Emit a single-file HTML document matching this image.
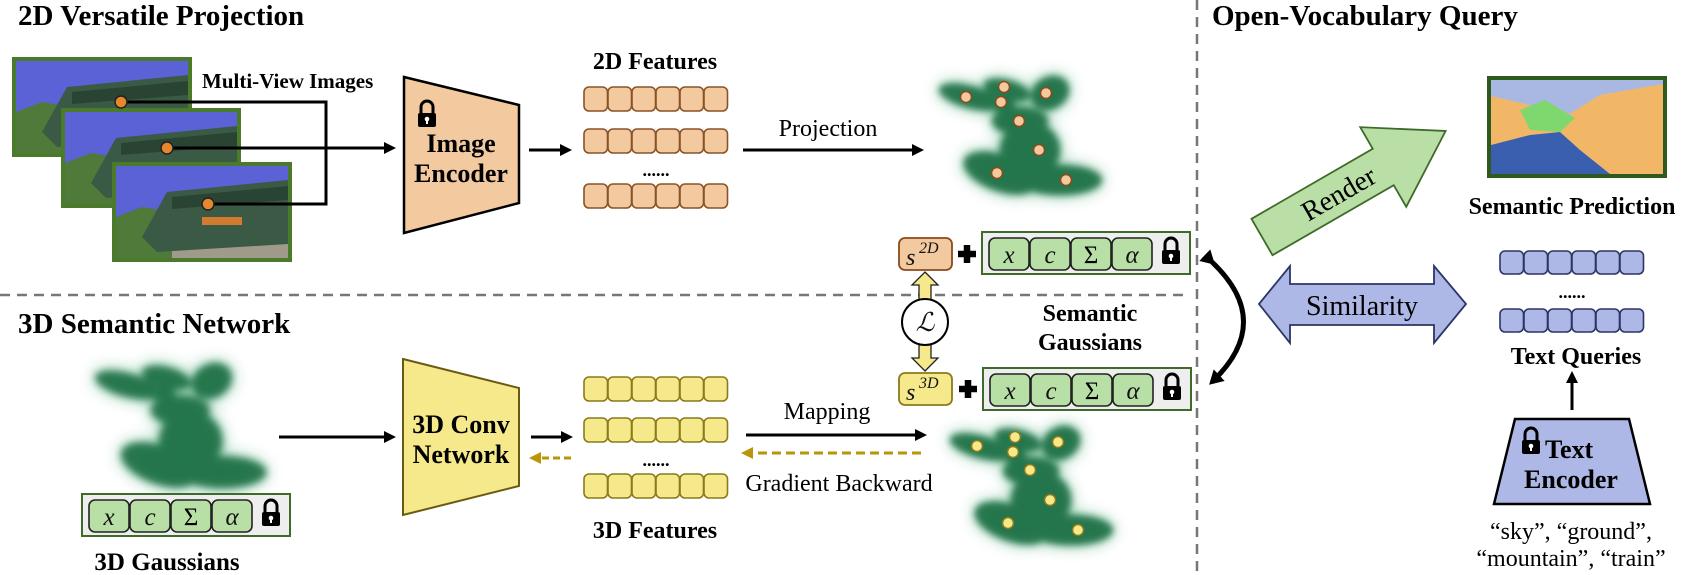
<!DOCTYPE html>
<html><head><meta charset="utf-8"><style>
html,body{margin:0;padding:0;background:#fff}
svg{display:block}
.t{font-family:"Liberation Serif",serif;font-weight:bold;fill:#000}
.n{font-family:"Liberation Serif",serif;fill:#000}
.m{font-family:"Liberation Serif",serif;font-style:italic;fill:#111}
</style></head><body>
<svg width="1682" height="575" viewBox="0 0 1682 575" xmlns="http://www.w3.org/2000/svg">
<defs>
<filter id="bl" x="-40%" y="-40%" width="180%" height="180%"><feGaussianBlur stdDeviation="3.5"/></filter>
<filter id="bl2" x="-40%" y="-40%" width="180%" height="180%"><feGaussianBlur stdDeviation="8"/></filter>
<g id="shapes">
  <ellipse cx="-45" cy="-38" rx="32" ry="11" transform="rotate(15 -45 -38)"/>
  <ellipse cx="-8" cy="-45" rx="24" ry="10" transform="rotate(15 -8 -45)"/>
  <ellipse cx="-12" cy="-30" rx="12" ry="7"/>
  <ellipse cx="35" cy="-42" rx="20" ry="16" transform="rotate(-30 35 -42)"/>
  <ellipse cx="5" cy="-14" rx="28" ry="14"/>
  <ellipse cx="15" cy="15" rx="30" ry="28"/>
  <ellipse cx="-15" cy="38" rx="38" ry="18" transform="rotate(20 -15 38)"/>
  <ellipse cx="45" cy="45" rx="42" ry="15"/>
</g>
<g id="blob">
 <g filter="url(#bl2)" fill="#2f9a60" opacity="0.7"><use href="#shapes"/></g>
 <g filter="url(#bl)" fill="#1d6e45" opacity="0.9"><use href="#shapes"/></g>
</g>
<g id="lock">
 <path d="M-6,0 v-6 a6,6 0 0 1 12,0 v6" fill="none" stroke="#000" stroke-width="3"/>
 <rect x="-9" y="0" width="18" height="14" rx="2" fill="#000"/>
 <circle cx="0" cy="6" r="2.3" fill="#fff"/><rect x="-1" y="6" width="2" height="5" fill="#fff"/>
</g>
<g id="gbox">
 <rect x="0" y="0" width="208" height="42" fill="#eeeeee" stroke="#3f6b2a" stroke-width="2"/>
 <rect x="7" y="6" width="40" height="32" rx="6" fill="#b8dfa6" stroke="#222" stroke-width="1.6"/>
 <rect x="48" y="6" width="40" height="32" rx="6" fill="#b8dfa6" stroke="#222" stroke-width="1.6"/>
 <rect x="89" y="6" width="40" height="32" rx="6" fill="#b8dfa6" stroke="#222" stroke-width="1.6"/>
 <rect x="130" y="6" width="40" height="32" rx="6" fill="#b8dfa6" stroke="#222" stroke-width="1.6"/>
 <text class="m" x="27" y="31" font-size="25" text-anchor="middle">x</text>
 <text class="m" x="68" y="31" font-size="25" text-anchor="middle">c</text>
 <text class="n" x="109" y="31" font-size="25" text-anchor="middle">Σ</text>
 <text class="m" x="150" y="31" font-size="25" text-anchor="middle">α</text>
 <use href="#lock" x="189" y="18"/>
</g>
<g id="orow"><g fill="#f3c9a0" stroke="#8a5326" stroke-width="1.6">
 <rect x="0" y="0" width="23.5" height="24" rx="5"/><rect x="24" y="0" width="23.5" height="24" rx="5"/><rect x="48" y="0" width="23.5" height="24" rx="5"/><rect x="72" y="0" width="23.5" height="24" rx="5"/><rect x="96" y="0" width="23.5" height="24" rx="5"/><rect x="120" y="0" width="23.5" height="24" rx="5"/></g></g>
<g id="yrow"><g fill="#f5e98c" stroke="#8a7a1a" stroke-width="1.6">
 <rect x="0" y="0" width="23.5" height="24" rx="5"/><rect x="24" y="0" width="23.5" height="24" rx="5"/><rect x="48" y="0" width="23.5" height="24" rx="5"/><rect x="72" y="0" width="23.5" height="24" rx="5"/><rect x="96" y="0" width="23.5" height="24" rx="5"/><rect x="120" y="0" width="23.5" height="24" rx="5"/></g></g>
<g id="brow"><g fill="#aeb8e6" stroke="#2c3566" stroke-width="1.6">
 <rect x="0" y="0" width="23.5" height="23" rx="5"/><rect x="24" y="0" width="23.5" height="23" rx="5"/><rect x="48" y="0" width="23.5" height="23" rx="5"/><rect x="72" y="0" width="23.5" height="23" rx="5"/><rect x="96" y="0" width="23.5" height="23" rx="5"/><rect x="120" y="0" width="23.5" height="23" rx="5"/></g></g>
<marker id="ah" markerWidth="12" markerHeight="12" refX="9" refY="6" orient="auto" markerUnits="userSpaceOnUse"><path d="M0,0 L12,6 L0,12 z" fill="#000"/></marker>
<marker id="ahg" markerWidth="12" markerHeight="12" refX="9" refY="6" orient="auto" markerUnits="userSpaceOnUse"><path d="M0,0 L12,6 L0,12 z" fill="#b8960a"/></marker>
<marker id="ahb" markerWidth="16" markerHeight="16" refX="10" refY="8" orient="auto" markerUnits="userSpaceOnUse"><path d="M0,0 L14,8 L0,16 z" fill="#000"/></marker>
<g id="img">
 <rect x="0" y="0" width="180" height="100" fill="#4a7a2a"/>
 <rect x="4" y="4" width="172" height="92" fill="#5a62d6"/>
 <rect x="4" y="60" width="172" height="36" fill="#a09a8a"/>
 <polygon points="4,55 30,45 60,50 60,96 4,96" fill="#4f7a3a"/>
 <polygon points="30,75 55,30 176,18 176,82 45,90" fill="#3a5a45"/>
 <polygon points="60,35 176,24 176,38 60,47" fill="#2a4434"/>
 <rect x="90" y="55" width="40" height="8" fill="#d27a30"/>
</g>
</defs>

<!-- dashed separators -->
<line x1="0" y1="295" x2="1190" y2="295" stroke="#777" stroke-width="2.5" stroke-dasharray="10,7"/>
<line x1="1197" y1="0" x2="1197" y2="575" stroke="#777" stroke-width="2.5" stroke-dasharray="10,7"/>

<!-- titles -->
<text class="t" x="18" y="25" font-size="29">2D Versatile Projection</text>
<text class="t" x="18" y="333" font-size="29">3D Semantic Network</text>
<text class="t" x="1212" y="25" font-size="29">Open-Vocabulary Query</text>

<!-- images -->
<use href="#img" x="12" y="57"/>
<use href="#img" x="61" y="108"/>
<use href="#img" x="112" y="162"/>
<path d="M121,102 H326 V204 H208" fill="none" stroke="#000" stroke-width="3"/>
<line x1="167" y1="148" x2="393" y2="148" stroke="#000" stroke-width="3" marker-end="url(#ah)"/>
<circle cx="121" cy="102" r="6" fill="#e8862e" stroke="#222" stroke-width="1.5"/>
<circle cx="167" cy="148" r="6" fill="#e8862e" stroke="#222" stroke-width="1.5"/>
<circle cx="208" cy="204" r="6" fill="#e8862e" stroke="#222" stroke-width="1.5"/>
<text class="t" x="202" y="88" font-size="21">Multi-View Images</text>

<!-- image encoder -->
<polygon points="404,77 519,105 519,203 404,233" fill="#f3c9a0" stroke="#000" stroke-width="2.5"/>
<use href="#lock" x="427" y="113"/>
<text class="t" x="461" y="152" font-size="26" text-anchor="middle">Image</text>
<text class="t" x="461" y="182" font-size="26" text-anchor="middle">Encoder</text>
<line x1="529" y1="150" x2="569" y2="150" stroke="#000" stroke-width="3" marker-end="url(#ah)"/>

<!-- 2D features -->
<text class="t" x="655" y="69" font-size="24" text-anchor="middle">2D Features</text>
<use href="#orow" x="584" y="87"/>
<use href="#orow" x="584" y="129"/>
<text class="t" x="656" y="176" font-size="18" text-anchor="middle">......</text>
<use href="#orow" x="584" y="184"/>
<line x1="743" y1="150" x2="921" y2="150" stroke="#000" stroke-width="3" marker-end="url(#ah)"/>
<text class="n" x="828" y="136" font-size="24" text-anchor="middle">Projection</text>

<!-- top blob -->
<use href="#blob" transform="translate(1015,135)"/>
<g fill="#f3c9a0" stroke="#8a4a1a" stroke-width="1.5">
<circle cx="966" cy="97" r="5.5"/><circle cx="1004" cy="87" r="5.5"/><circle cx="1046" cy="93" r="5.5"/><circle cx="1001" cy="102" r="5.5"/><circle cx="1019" cy="121" r="5.5"/><circle cx="1039" cy="150" r="5.5"/><circle cx="997" cy="173" r="5.5"/><circle cx="1066" cy="180" r="5.5"/>
</g>

<!-- s2D / s3D -->
<rect x="899" y="238" width="53" height="32" rx="6" fill="#f3c9a0" stroke="#8a4a1a" stroke-width="1.8"/>
<text class="m" x="906" y="265" font-size="24">s</text><text class="m" x="919" y="253" font-size="16">2D</text>
<path d="M958,254 h18 M967,245 v18" stroke="#000" stroke-width="6.5"/>
<use href="#gbox" x="982" y="232"/>
<rect x="899" y="373" width="53" height="32" rx="6" fill="#f5e98c" stroke="#8a7a1a" stroke-width="1.8"/>
<text class="m" x="906" y="400" font-size="24">s</text><text class="m" x="919" y="388" font-size="16">3D</text>
<path d="M959,389 h18 M968,380 v18" stroke="#000" stroke-width="6.5"/>
<use href="#gbox" x="983" y="368"/>

<!-- loss -->
<polygon points="925,272 938,285 931,285 931,300 919,300 919,285 912,285" fill="#f5e98c" stroke="#222" stroke-width="1.3"/>
<polygon points="925,371 938,358 931,358 931,344 919,344 919,358 912,358" fill="#f5e98c" stroke="#222" stroke-width="1.3"/>
<circle cx="925" cy="322" r="23" fill="#fff" stroke="#000" stroke-width="2"/>
<text class="m" x="925" y="331" font-size="26" text-anchor="middle">ℒ</text>
<text class="t" x="1090" y="321" font-size="24" text-anchor="middle">Semantic</text>
<text class="t" x="1090" y="350" font-size="24" text-anchor="middle">Gaussians</text>

<!-- curved arrow -->
<path d="M1212,262 Q1275,322 1212,382" fill="none" stroke="#000" stroke-width="5" marker-start="url(#ahb)" marker-end="url(#ahb)"/>

<!-- left 3D gaussians -->
<use href="#blob" transform="translate(175,425) scale(1.05)"/>
<use href="#gbox" x="82" y="494"/>
<text class="t" x="167" y="570" font-size="25" text-anchor="middle">3D Gaussians</text>
<line x1="279" y1="437" x2="393" y2="437" stroke="#000" stroke-width="3" marker-end="url(#ah)"/>

<!-- conv network -->
<polygon points="403,359 519,388 519,486 403,515" fill="#f5e98c" stroke="#6a5a10" stroke-width="2"/>
<text class="t" x="461" y="433" font-size="26" text-anchor="middle">3D Conv</text>
<text class="t" x="461" y="463" font-size="26" text-anchor="middle">Network</text>
<line x1="531" y1="437" x2="570" y2="437" stroke="#000" stroke-width="3" marker-end="url(#ah)"/>
<line x1="571" y1="458" x2="532" y2="458" stroke="#b8960a" stroke-width="3" stroke-dasharray="7,4" marker-end="url(#ahg)"/>

<!-- 3D features -->
<use href="#yrow" x="584" y="377"/>
<use href="#yrow" x="584" y="418"/>
<text class="t" x="656" y="466" font-size="18" text-anchor="middle">......</text>
<use href="#yrow" x="584" y="474"/>
<text class="t" x="655" y="538" font-size="24" text-anchor="middle">3D Features</text>
<line x1="746" y1="435" x2="924" y2="435" stroke="#000" stroke-width="3" marker-end="url(#ah)"/>
<text class="n" x="827" y="419" font-size="24" text-anchor="middle">Mapping</text>
<line x1="921" y1="453" x2="744" y2="453" stroke="#b8960a" stroke-width="3" stroke-dasharray="9,5" marker-end="url(#ahg)"/>
<text class="n" x="839" y="491" font-size="24" text-anchor="middle">Gradient Backward</text>

<!-- bottom blob -->
<use href="#blob" transform="translate(1026,485)"/>
<g fill="#f5e98c" stroke="#8a7a1a" stroke-width="1.5">
<circle cx="977" cy="446" r="5.5"/><circle cx="1015" cy="437" r="5.5"/><circle cx="1058" cy="442" r="5.5"/><circle cx="1013" cy="452" r="5.5"/><circle cx="1030" cy="470" r="5.5"/><circle cx="1050" cy="500" r="5.5"/><circle cx="1008" cy="523" r="5.5"/><circle cx="1078" cy="530" r="5.5"/>
</g>

<!-- Render arrow -->
<g transform="translate(1262,237) rotate(-30)">
<polygon points="0,-21 140,-21 140,-46 212,0 140,46 140,21 0,21" fill="#b9dea6" stroke="#3f6b2a" stroke-width="1.8"/>
<text class="n" x="88" y="10" font-size="28" text-anchor="middle">Render</text>
</g>

<!-- semantic prediction -->
<rect x="1487" y="76" width="180" height="102" fill="#2f5a1e"/>
<rect x="1491" y="80" width="172" height="94" fill="#f2b766"/>
<polygon points="1491,80 1663,80 1663,84 1600,95 1560,120 1530,105 1491,96" fill="#a9b8e2"/>
<polygon points="1520,110 1545,100 1575,118 1560,132 1530,130" fill="#7ed86e"/>
<polygon points="1491,145 1530,135 1560,132 1580,150 1610,174 1491,174" fill="#3a5fae"/>
<text class="t" x="1572" y="214" font-size="24" text-anchor="middle">Semantic Prediction</text>

<!-- similarity -->
<polygon points="1259,304 1290,266 1290,284 1434,284 1434,266 1466,304 1434,343 1434,325 1290,325 1290,343" fill="#aeb8e6" stroke="#2c3566" stroke-width="1.8"/>
<text class="n" x="1362" y="315" font-size="28" text-anchor="middle">Similarity</text>

<!-- text queries -->
<use href="#brow" x="1500" y="251"/>
<text class="t" x="1572" y="298" font-size="18" text-anchor="middle">......</text>
<use href="#brow" x="1500" y="309"/>
<text class="t" x="1576" y="364" font-size="24" text-anchor="middle">Text Queries</text>
<line x1="1572" y1="410" x2="1572" y2="374" stroke="#000" stroke-width="3" marker-end="url(#ah)"/>
<polygon points="1515,419 1629,419 1650,504 1494,504" fill="#aeb8e6" stroke="#000" stroke-width="2.5"/>
<use href="#lock" x="1531" y="440"/>
<text class="t" x="1545" y="458" font-size="26">Text</text>
<text class="t" x="1571" y="488" font-size="26" text-anchor="middle">Encoder</text>
<text class="n" x="1571" y="539" font-size="24" text-anchor="middle">“sky”, “ground”,</text>
<text class="n" x="1571" y="566" font-size="24" text-anchor="middle">“mountain”, “train”</text>
</svg>
</body></html>
